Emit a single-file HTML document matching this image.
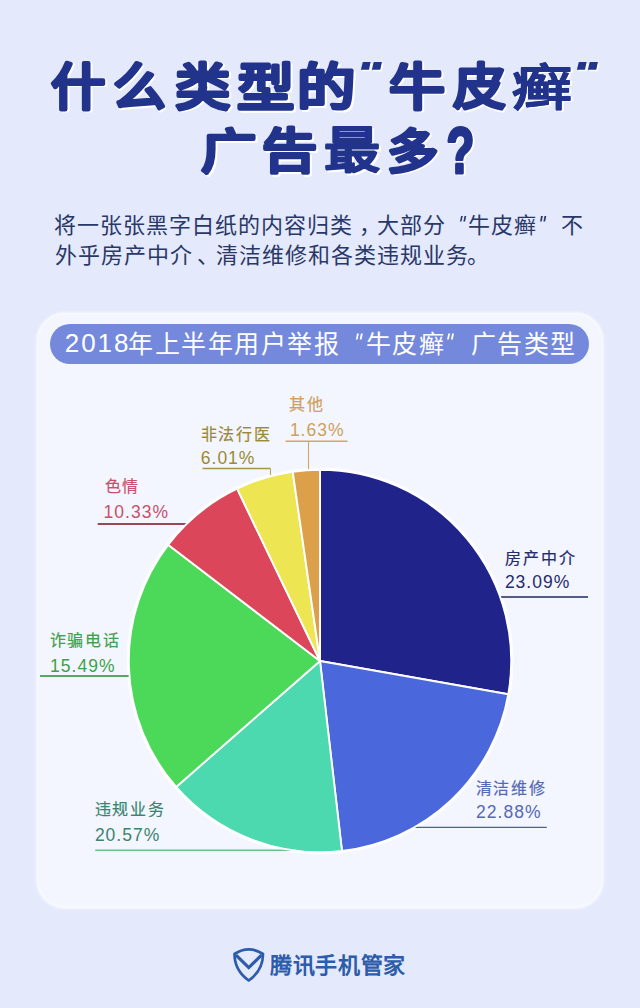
<!DOCTYPE html>
<html lang="zh-CN">
<head>
<meta charset="utf-8">
<style>
html,body{margin:0;padding:0;}
body{width:640px;height:1008px;overflow:hidden;background:#e4e9fc;position:relative;font-family:"Liberation Sans",sans-serif;}
.t{position:absolute;white-space:nowrap;}
.sb{font-size:22px;line-height:22px;letter-spacing:1px;font-weight:500;color:#2a3868;}
.pc{font-size:25px;line-height:25px;letter-spacing:1.3px;color:#ffffff;}
.pd{font-size:26px;line-height:26px;letter-spacing:2px;color:#ffffff;}
.lc{font-size:16px;line-height:16px;letter-spacing:1.8px;font-weight:500;-webkit-text-stroke:0.2px currentColor;}
.ld{font-size:17.5px;line-height:17.5px;letter-spacing:1px;}
.card{position:absolute;left:37px;top:313px;width:566px;height:595px;background:#f3f6fe;border-radius:28px;box-shadow:0 0 3px 1px rgba(255,255,255,0.7), inset 0 0 3px 1px rgba(255,255,255,0.6);}
.pill{position:absolute;left:50px;top:324px;width:539px;height:40px;background:#7489dc;border-radius:20px;}
.logo{font-size:22px;line-height:22px;font-weight:700;color:#2d5cab;letter-spacing:0.6px;}
</style>
</head>
<body>
<svg class="t" style="left:0;top:0" width="640" height="200" viewBox="0 0 640 200">
<defs><g id="ttl" font-size="100" font-weight="900" stroke-width="5" stroke-linejoin="round">
<text transform="translate(51.04 104.50) scale(0.5446 0.5000)">什</text>
<text transform="translate(112.69 104.94) scale(0.5284 0.5051)">么</text>
<text transform="translate(174.94 104.56) scale(0.5550 0.4950)">类</text>
<text transform="translate(236.93 105.91) scale(0.5740 0.5103)">型</text>
<text transform="translate(297.08 105.06) scale(0.5842 0.4950)">的</text>
<text transform="translate(389.44 104.56) scale(0.5612 0.4950)">牛</text>
<text transform="translate(452.53 104.13) scale(0.5297 0.4901)">皮</text>
<text stroke-width="1" transform="translate(511.90 104.61) scale(0.5979 0.4898)">癣</text>
<text transform="translate(201.00 167.91) scale(0.5561 0.4709)">广</text>
<text transform="translate(261.90 168.26) scale(0.5521 0.4802)">告</text>
<text stroke-width="2.5" transform="translate(324.38 168.00) scale(0.5619 0.5000)">最</text>
<text transform="translate(387.21 167.88) scale(0.5132 0.4706)">多</text>
<text transform="translate(446.59 172.70) scale(0.4554 0.6486)">?</text>
<path stroke="none" d="M362.8 62H370.6L369 69.7H360.9Z"/><path stroke="none" d="M373.75 62H381.9L380.3 69.7H371.9Z"/>
<path stroke="none" d="M578.8 62H586.6L585 69.7H576.9Z"/><path stroke="none" d="M589.75 62H597.9L596.3 69.7H587.9Z"/>
</g></defs>
<use href="#ttl" transform="translate(1.6 1.6)" fill="#ffffff" stroke="#ffffff"/>
<use href="#ttl" fill="#22338c" stroke="#22338c"/>
</svg>

<div class="t sb" style="left:54.1px;top:215px">将一张张黑字白纸的内容归类</div>
<div class="t sb" style="left:359.2px;top:215px">，</div>
<div class="t sb" style="left:376.9px;top:215px">大部分</div>
<div class="t sb" style="left:467.9px;top:215px">牛皮癣</div>
<div class="t sb" style="left:560.9px;top:215px">不</div>
<div class="t sb" style="left:54.7px;top:245px">外乎房产中介</div>
<div class="t sb" style="left:196.7px;top:245px">、</div>
<div class="t sb" style="left:215.6px;top:245px">清洁维修和各类违规业务</div>
<div class="t sb" style="left:467.1px;top:245px">。</div>

<div class="card"></div>
<div class="pill"></div>
<div class="t pd" style="left:64.7px;top:329.9px">2018</div>
<div class="t pc" style="left:128.1px;top:331.6px;letter-spacing:1.5px">年上半年用户举报</div>
<div class="t pc" style="left:366px;top:331.8px">牛皮癣</div>
<div class="t pc" style="left:471px;top:331.8px">广告类型</div>
<svg class="t" style="left:0;top:0" width="640" height="400" viewBox="0 0 640 400">
<g fill="#ffffff">
<path d="M357 333.4H358.9L357.5 339.4H355.8Z"/><path d="M360.9 333.4H362.8L361.6 339.4H359.7Z"/>
<path d="M448.3 333.4H450.2L448.75 339.6H447Z"/><path d="M452.2 333.4H454L452.8 339.6H450.9Z"/>
</g>
<g fill="#2a3868">
<path d="M461.1 216.1H462.8L461.5 221.4H460Z"/><path d="M464.5 216.1H466.2L465.1 221.4H463.4Z"/>
<path d="M541 216.1H542.9L541.7 221.4H540.1Z"/><path d="M544.5 216.1H546.3L545.1 221.4H543.4Z"/>
</g>
</svg>
<svg class="t" style="left:0;top:0" width="640" height="1008" viewBox="0 0 640 1008">
<circle cx="320" cy="661" r="191.5" fill="none" stroke="rgba(255,255,255,0.75)" stroke-width="4"/>
<g fill="none" stroke-width="1.5">
<path stroke="#d8a260" d="M285.6 441.25H347.5"/><path stroke="#d8a260" stroke-width="1.1" d="M308.5 441V480"/>
<path stroke="#aa9444" d="M202.5 468.6H270.5"/><path stroke="#b8a660" stroke-width="1.1" d="M270.5 468.6V490"/>
<path stroke="#9a4658" stroke-width="1.8" d="M97.7 524H191"/>
<path stroke="#58a864" stroke-width="1.8" d="M40 676H150"/>
<path stroke="#6cc08a" d="M95.2 850.3H320"/>
<path stroke="#4f5f9a" stroke-width="1.3" d="M400 827.4H546.8"/>
<path stroke="#23285f" stroke-width="1.3" d="M480 597H588"/>
</g>
<g stroke="#ffffff" stroke-width="1.9" stroke-linejoin="round">
<path fill="#1f238a" d="M320 661L320.00 469.80A191.2 191.2 0 0 1 508.30 694.20Z"/>
<path fill="#4a67db" d="M320 661L508.30 694.20A191.2 191.2 0 0 1 341.98 850.93Z"/>
<path fill="#4dd9b0" d="M320 661L341.98 850.93A191.2 191.2 0 0 1 176.14 786.94Z"/>
<path fill="#4cd95a" d="M320 661L176.14 786.94A191.2 191.2 0 0 1 168.11 544.87Z"/>
<path fill="#dc465a" d="M320 661L168.11 544.87A191.2 191.2 0 0 1 237.08 488.71Z"/>
<path fill="#ede552" d="M320 661L237.08 488.71A191.2 191.2 0 0 1 292.73 471.75Z"/>
<path fill="#dca04b" d="M320 661L292.73 471.75A191.2 191.2 0 0 1 320.00 469.80Z"/>
</g>
</svg>

<div class="t lc" style="left:289.4px;top:397.4px;color:#cf9f5c">其他</div>
<div class="t ld" style="left:289.9px;top:421.7px;color:#cf9f5c">1.63%</div>
<div class="t lc" style="left:200.6px;top:427.2px;color:#9a8a35">非法行医</div>
<div class="t ld" style="left:200.8px;top:450.4px;color:#9a8a35">6.01%</div>
<div class="t lc" style="left:104.5px;top:479.4px;color:#c9506a">色情</div>
<div class="t ld" style="left:103.6px;top:503.9px;color:#c9506a">10.33%</div>
<div class="t lc" style="left:49.7px;top:633.4px;color:#40a04c">诈骗电话</div>
<div class="t ld" style="left:50.1px;top:657.9px;color:#40a04c">15.49%</div>
<div class="t lc" style="left:94.6px;top:802.3px;color:#3c836e">违规业务</div>
<div class="t ld" style="left:94.9px;top:827.3px;color:#3c836e">20.57%</div>
<div class="t lc" style="left:475.7px;top:780.5px;color:#5468b5">清洁维修</div>
<div class="t ld" style="left:476.1px;top:804.2px;color:#5468b5">22.88%</div>
<div class="t lc" style="left:505.2px;top:550.8px;color:#262a6e">房产中介</div>
<div class="t ld" style="left:504.9px;top:573.9px;color:#262a6e">23.09%</div>

<svg class="t" style="left:230px;top:944px" width="38" height="42" viewBox="0 0 38 42">
<path d="M4.5 10Q18.75 0.7 33 10C33 22 26.5 31 18.75 36.5C11 31 4.5 22 4.5 10Z" fill="none" stroke="#2d5cab" stroke-width="2.7" stroke-linejoin="round"/>
<path d="M6 11.2L18.75 23.6L31.5 11.2" fill="none" stroke="#2d5cab" stroke-width="3.2" stroke-linejoin="miter"/>
</svg>
<div class="t logo" style="left:270.2px;top:954.6px">腾讯手机管家</div>
</body>
</html>
